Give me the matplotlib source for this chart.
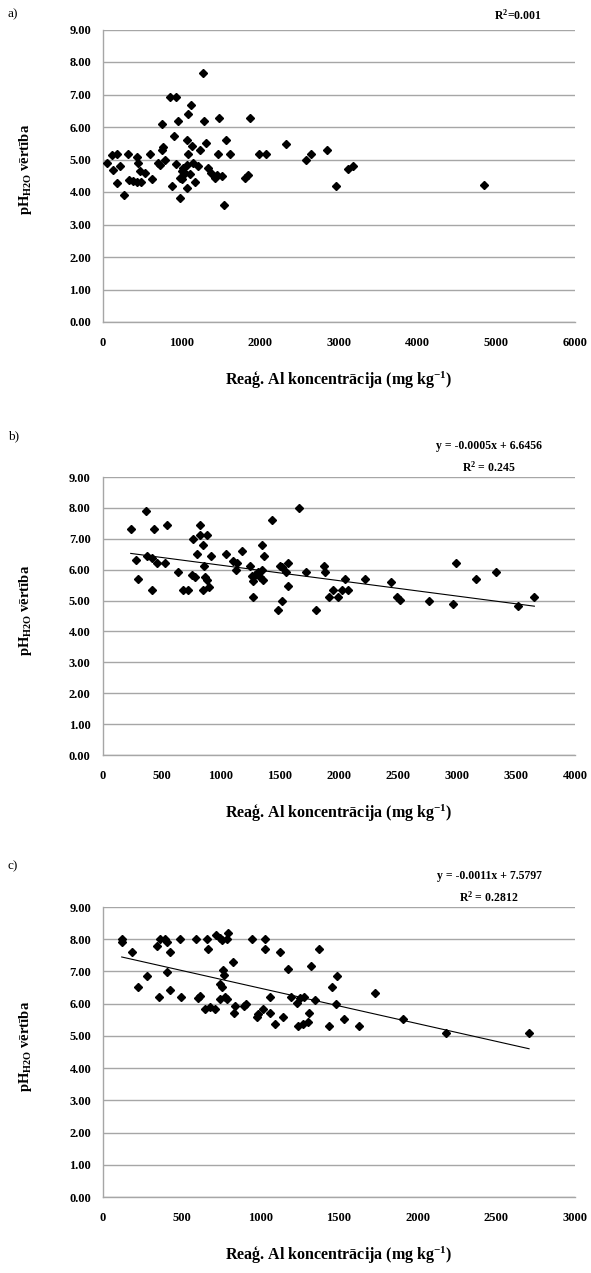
import matplotlib
matplotlib.use("Agg")
import matplotlib.pyplot as plt
import numpy as np

plt.rcParams['font.family'] = ['Liberation Serif', 'DejaVu Serif']
plt.rcParams['mathtext.fontset'] = 'custom'
plt.rcParams['mathtext.rm'] = 'Liberation Serif'
plt.rcParams['mathtext.bf'] = 'Liberation Serif:bold'
plt.rcParams['mathtext.it'] = 'Liberation Serif:italic'

# ---- a) ----
al_a = [850, 926, 1273, 1113, 1075, 956, 745, 1282, 1476, 1870, 905, 1062, 1133, 1307,
        1561, 1235, 1082, 758, 745, 1463, 1612, 1984, 2068, 2331, 2648, 2585, 2846, 3173,
        3109, 2966, 1539, 596, 313, 428, 174, 110, 47, 123, 216, 174, 270, 448, 470, 533,
        618, 334, 385, 428, 478, 702, 787, 723, 872, 977, 1070, 1168, 977, 1019, 1062, 1146,
        1209, 999, 1041, 1336, 1379, 1421, 1519, 1802, 1844, 1443, 4848, 926, 1003, 1104]
ph_a = [6.93, 6.93, 7.67, 6.68, 6.40, 6.19, 6.08, 6.19, 6.29, 6.29, 5.71, 5.61, 5.42, 5.50,
        5.61, 5.30, 5.18, 5.40, 5.30, 5.18, 5.18, 5.18, 5.18, 5.48, 5.18, 4.99, 5.30, 4.79,
        4.70, 4.20, 3.59, 5.18, 5.18, 5.09, 5.18, 5.15, 4.89, 4.69, 4.79, 4.28, 3.90, 4.89,
        4.64, 4.58, 4.40, 4.38, 4.33, 4.30, 4.30, 4.89, 4.97, 4.84, 4.20, 3.82, 4.11, 4.30,
        4.43, 4.74, 4.84, 4.89, 4.81, 4.64, 4.58, 4.74, 4.58, 4.43, 4.48, 4.43, 4.51, 4.53,
        4.21, 4.85, 4.39, 4.54]

# ---- b) ----
al_b = [368, 239, 439, 543, 826, 769, 826, 882, 848, 1438, 1664, 284, 374, 417, 459, 529,
        303, 417, 642, 684, 727, 755, 783, 797, 859, 916, 854, 904, 868, 888, 1046, 1108,
        1136, 1130, 1178, 1249, 1263, 1291, 1277, 1319, 1334, 1362, 1348, 1272, 1348, 1367,
        1503, 1517, 1573, 1554, 1568, 1517, 1489, 1723, 1805, 1878, 1884, 2053, 1921, 1954,
        1997, 2025, 2081, 2223, 2440, 2496, 2519, 2767, 2965, 2991, 3163, 3329, 3521, 3656]
ph_b = [7.91, 7.32, 7.32, 7.43, 7.43, 7.00, 7.13, 7.13, 6.81, 7.60, 8.00, 6.32, 6.45, 6.38,
        6.21, 6.21, 5.70, 5.35, 5.91, 5.33, 5.33, 5.83, 5.76, 6.51, 6.13, 6.43, 5.33, 5.44,
        5.76, 5.67, 6.51, 6.27, 6.21, 6.00, 6.61, 6.13, 5.78, 5.83, 5.62, 5.91, 5.76, 5.67,
        6.00, 5.11, 6.81, 6.43, 6.13, 6.08, 6.23, 5.91, 5.48, 5.00, 4.70, 5.91, 4.70, 6.13,
        5.91, 5.70, 5.11, 5.33, 5.11, 5.33, 5.35, 5.70, 5.59, 5.13, 5.02, 5.00, 4.89, 6.21,
        5.70, 5.91, 4.81, 5.13]

# ---- c) ----
al_c = [119, 119, 183, 221, 282, 341, 362, 394, 405, 426, 405, 358, 426, 489, 496, 591, 606,
        617, 663, 670, 648, 680, 712, 718, 744, 754, 790, 797, 761, 769, 744, 754, 824, 744,
        776, 787, 839, 833, 896, 909, 945, 1030, 1030, 977, 988, 1019, 1062, 1062, 1125, 1178,
        1094, 1142, 1193, 1231, 1252, 1278, 1241, 1273, 1305, 1312, 1320, 1348, 1373, 1439,
        1454, 1486, 1481, 1532, 1630, 1730, 1905, 2183, 2708]
ph_c = [8.00, 7.90, 7.60, 6.52, 6.87, 7.80, 8.00, 8.00, 7.90, 7.60, 6.97, 6.21, 6.42, 8.00,
        6.21, 8.00, 6.17, 6.24, 8.00, 7.70, 5.82, 5.89, 5.82, 8.12, 8.05, 7.97, 8.00, 8.20,
        7.03, 6.90, 6.62, 6.51, 7.28, 6.15, 6.21, 6.13, 5.94, 5.70, 5.94, 6.00, 8.00, 8.00,
        7.70, 5.58, 5.68, 5.82, 5.70, 6.21, 7.60, 7.08, 5.38, 5.58, 6.21, 6.03, 6.17, 6.21,
        5.32, 5.38, 5.42, 5.70, 7.18, 6.11, 7.70, 5.32, 6.51, 6.87, 6.00, 5.51, 5.32, 6.33,
        5.51, 5.10, 5.10]

panel_letters = ['a)', 'b)', 'c)']
x_limits = [6000, 4000, 3000]
x_steps = [1000, 500, 500]
trend_slope = [None, -0.0005, -0.0011]
trend_icept = [None, 6.6456, 7.5797]
eq_text = [None, 'y = -0.0005x + 6.6456', 'y = -0.0011x + 7.5797']
r2_text = ['R$^{\\mathbf{2}}$=0.001', 'R$^{\\mathbf{2}}$ = 0.245', 'R$^{\\mathbf{2}}$ = 0.2812']
y_ticks = np.arange(0, 9.01, 1.0)

W, H = 591, 1273
fig = plt.figure(figsize=(W / 100, H / 100), dpi=100)

# axes boxes in pixels: left, right, top, bottom
boxes = [(103, 575, 29.5, 322), (102.5, 575, 477, 755), (103, 575, 907, 1197)]
datasets = [(al_a, ph_a), (al_b, ph_b), (al_c, ph_c)]
grid_col = '#a6a6a6'

for i, ((l, r, t, b), (xs, ys)) in enumerate(zip(boxes, datasets)):
    ax = fig.add_axes([l / W, 1 - b / H, (r - l) / W, (b - t) / H])
    ax.set_xlim(0, x_limits[i])
    ax.set_ylim(0, 9)
    ax.set_yticks(y_ticks)
    ax.set_yticklabels([f'{v:.2f}' for v in y_ticks])
    ax.set_xticks(np.arange(0, x_limits[i] + 1, x_steps[i]))
    ax.set_xticklabels([str(int(v)) for v in ax.get_xticks()])
    ax.tick_params(length=0, labelsize=9, colors='black')
    ax.tick_params(axis='y', pad=8.5)
    ax.tick_params(axis='x', pad=11)
    for lab in ax.get_xticklabels() + ax.get_yticklabels():
        lab.set_fontweight('bold')
    ax.grid(axis='y', color=grid_col, linewidth=1.0)
    ax.set_axisbelow(True)
    for s in ['top', 'right']:
        ax.spines[s].set_visible(False)
    for s in ['left', 'bottom']:
        ax.spines[s].set_color(grid_col)
        ax.spines[s].set_linewidth(1.0)

    ax.plot(xs, ys, linestyle='none', marker='D', markersize=4.5,
            color='black', clip_on=False, zorder=3)

    if trend_slope[i] is not None:
        xl = np.array([min(xs), max(xs)])
        ax.plot(xl, trend_slope[i] * xl + trend_icept[i], color='black',
                linewidth=0.8, zorder=2)

    hgt = b - t
    ylab = ax.set_ylabel(r'pH$_{\mathbf{H2O}}$ vērtība', fontsize=10.5,
                         fontweight='bold')
    ax.yaxis.set_label_coords((25 - l) / (r - l), 0.52)
    ylab.set_va('center')
    xlab = ax.set_xlabel(r'Reaģ. Al koncentrācija (mg kg$^{\mathbf{-1}}$)',
                         fontsize=11.5, fontweight='bold')
    ax.xaxis.set_label_coords(0.5, -58 / hgt)
    xlab.set_va('center')

    # panel letter and trendline equation
    fig.text(8 / W, 1 - (t - (15 if i == 0 else 41)) / H, panel_letters[i],
             fontsize=9.5, ha='left', va='center')
    if i == 0:
        fig.text(518 / W, 1 - 15 / H, r2_text[i], fontsize=8.5,
                 fontweight='bold', ha='center', va='center')
    else:
        fig.text(489 / W, 1 - (t - 31) / H, eq_text[i], fontsize=8.5,
                 fontweight='bold', ha='center', va='center')
        fig.text(489 / W, 1 - (t - 10) / H, r2_text[i], fontsize=8.5,
                 fontweight='bold', ha='center', va='center')

fig.savefig('out.png', dpi=100)
